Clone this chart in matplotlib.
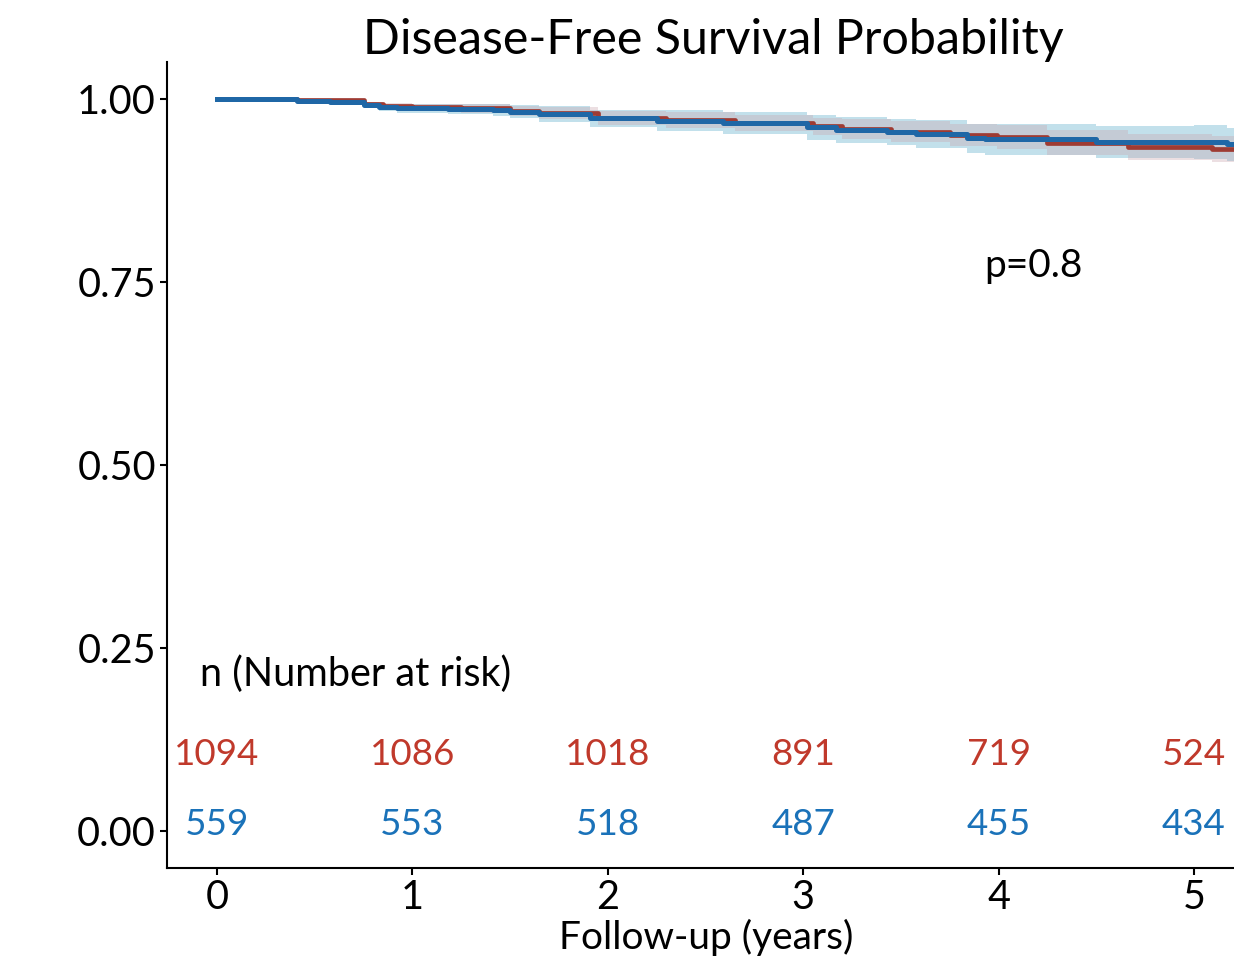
"""
Curva de supervivencia libre de enfermedad (Kaplan-Meier) con tabla de riesgo.
Valores leídos a ojo de la figura original.
"""
import matplotlib
matplotlib.use("Agg")
import matplotlib.pyplot as plt
import numpy as np

plt.rcParams["font.family"] = ["Lato", "DejaVu Sans"]

# ---------- datos ----------
# grupo rojo: tiempos de los escalones (años), supervivencia y semiancho del IC
t_rojo = [0.00, 0.41, 0.75, 0.85, 1.00, 1.25, 1.50, 1.65, 1.95, 2.30, 2.65,
          3.05, 3.20, 3.45, 3.75, 3.99, 4.25, 4.66, 5.09, 5.30]
s_rojo = [1.000, 0.9986, 0.9930, 0.9900, 0.9885, 0.9870, 0.9840, 0.9805,
          0.9745, 0.9712, 0.9675, 0.9625, 0.9590, 0.9555, 0.9505, 0.9483,
          0.9405, 0.9345, 0.9320, 0.9320]
ic_rojo = [0.000, 0.0015, 0.003, 0.004, 0.005, 0.006, 0.007, 0.008, 0.0095,
           0.0105, 0.011, 0.012, 0.013, 0.014, 0.015, 0.016, 0.017, 0.018,
           0.018, 0.018]

# grupo azul
t_azul = [0.00, 0.41, 0.58, 0.75, 0.83, 0.92, 1.18, 1.41, 1.50, 1.65, 1.91,
          2.25, 2.59, 3.02, 3.17, 3.43, 3.58, 3.84, 3.93, 4.50, 5.00, 5.17, 5.30]
s_azul = [1.000, 0.9973, 0.9955, 0.9918, 0.9887, 0.9873, 0.9863, 0.9850,
          0.9826, 0.9795, 0.9736, 0.9704, 0.9668, 0.9613, 0.9577, 0.9545,
          0.9522, 0.9463, 0.9449, 0.9417, 0.9408, 0.9380, 0.9380]
ic_azul = [0.000, 0.002, 0.003, 0.004, 0.005, 0.006, 0.007, 0.008, 0.009,
           0.011, 0.012, 0.014, 0.015, 0.017, 0.018, 0.018, 0.019, 0.020,
           0.021, 0.022, 0.023, 0.023, 0.023]

# tabla de número en riesgo
anios = [0, 1, 2, 3, 4, 5]
riesgo_rojo = [1094, 1086, 1018, 891, 719, 524]
riesgo_azul = [559, 553, 518, 487, 455, 434]

p_valor = "p=0.8"

ROJO, ROJO_TXT = "#9E3B33", "#C0392B"
AZUL, AZUL_TXT = "#1F67A6", "#1A72B9"

# ---------- figura ----------
fig = plt.figure(figsize=(12.34, 9.59), dpi=100)
ax = fig.add_axes([167 / 1234, 91 / 959, 1 - 167 / 1234, 806 / 959])

for t, s, ic, banda, a in [
        (t_azul, s_azul, ic_azul, "#A9D3E3", 0.7),
        (t_rojo, s_rojo, ic_rojo, "#C9A6AC", 0.35)]:
    s = np.array(s); ic = np.array(ic)
    ax.fill_between(t, np.minimum(s + ic, 1), s - ic, step="post",
                    color=banda, alpha=a, lw=0)

ax.step(t_rojo, s_rojo, where="post", color=ROJO, lw=3.4)
ax.step(t_azul, s_azul, where="post", color=AZUL, lw=3.6)

# tabla de riesgo dentro del panel
ax.text(-0.087, 0.214, "n (Number at risk)", fontsize=28.5, va="center", ha="left")
for x, nr, na in zip(anios, riesgo_rojo, riesgo_azul):
    ax.text(x, 0.105, str(nr), color=ROJO_TXT, fontsize=26.5, ha="center", va="center")
    ax.text(x, 0.0096, str(na), color=AZUL_TXT, fontsize=26.5, ha="center", va="center")

ax.text(3.925, 0.772, p_valor, fontsize=28, ha="left", va="center")

ax.set_xlim(-0.256, 5.205)
ax.set_ylim(-0.0505, 1.0505)
ax.set_xticks(anios)
ax.set_yticks([0, 0.25, 0.5, 0.75, 1.0])
ax.set_yticklabels(["0.00", "0.25", "0.50", "0.75", "1.00"])
ax.tick_params(labelsize=28.5, width=1.5, length=5, pad=3)
for lado in ("top", "right"):
    ax.spines[lado].set_visible(False)
for lado in ("left", "bottom"):
    ax.spines[lado].set_linewidth(1.5)

fig.text(713 / 1234, 1 - 40 / 959, "Disease-Free Survival Probability",
         fontsize=34.8, ha="center", va="center")
fig.text(706 / 1234, 1 - 937 / 959, "Follow-up (years)",
         fontsize=28, ha="center", va="center")

fig.savefig("out.png", dpi=100)
